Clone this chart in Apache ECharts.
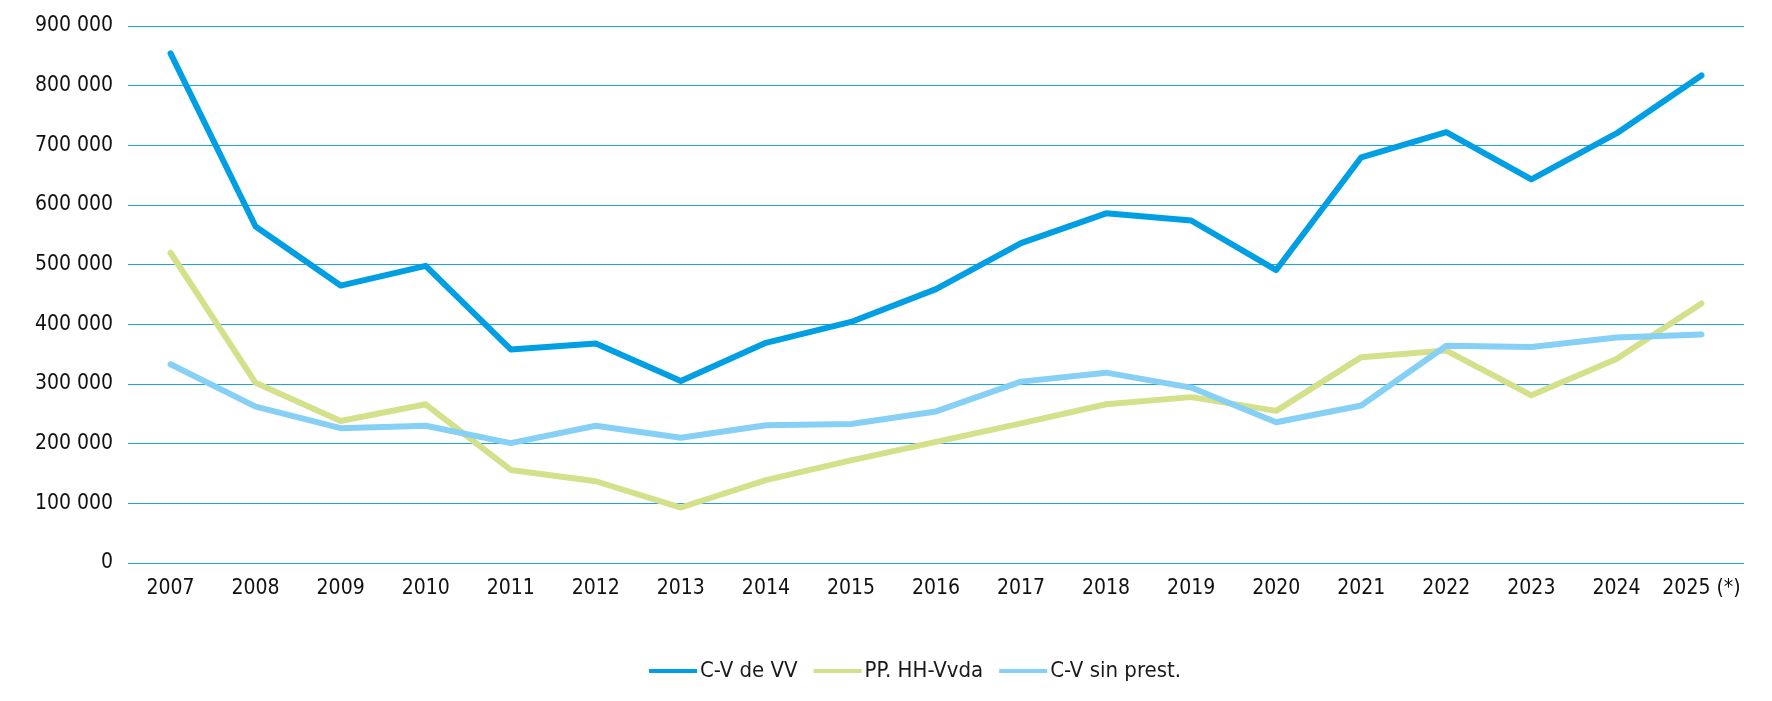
<!DOCTYPE html>
<html>
<head>
<meta charset="utf-8">
<script src="https://cdn.jsdelivr.net/npm/echarts@6/dist/echarts.min.js"></script>
<style>
html,body{margin:0;padding:0;background:#fff;}
#chart{width:1772px;height:701px;}
</style>
</head>
<body>
<div id="chart"></div>
<script>
const years = ['2007','2008','2009','2010','2011','2012','2013','2014','2015','2016','2017','2018','2019','2020','2021','2022','2023','2024','2025 (*)'];
const cvVV = [854000,564000,465000,498000,358000,368000,305000,369000,404000,459000,536000,586000,574000,491000,680000,722000,643000,720000,817000];
const ppHH = [520000,302000,238000,266000,156000,137000,93000,139000,172000,203000,234000,266000,278000,255000,345000,356000,281000,342000,435000];
const cvSin = [333000,262000,226000,230000,201000,230000,210000,231000,233000,254000,304000,319000,294000,236000,264000,364000,362000,378000,383000];
const seriesNames = ['C-V de VV','PP. HH-Vvda','C-V sin prest.'];
const colors = ['#009FE3','#D4E08A','#86D0F5'];

const font = "'Liberation Sans Narrow','DejaVu Sans Condensed','Roboto',sans-serif";
const chart = echarts.init(document.getElementById('chart'), null, {renderer:'canvas'});
const mk = (name, data, color) => ({
  name, type:'line', data, symbol:'none', smooth:false,
  lineStyle:{color, width:6, cap:'round', join:'round'},
  itemStyle:{color},
  emphasis:{disabled:true}
});
chart.setOption({
  animation:false,
  color: colors,
  grid:{left:128, right:28, top:26, bottom:138, containLabel:false},
  legend:{
    left:644, top:655, itemWidth:48, itemHeight:12, itemGap:16,
    icon:'path://M0,0 L48,0 L48,4 L0,4 Z',
    textStyle:{fontFamily:font, fontSize:22, color:'#1a1a1a', padding:[0,0,0,-2]},
    data: seriesNames
  },
  xAxis:{
    type:'category', data:years, boundaryGap:true,
    axisLine:{show:false}, axisTick:{show:false},
    axisLabel:{fontFamily:font, fontSize:21, color:'#111', margin:15, interval:0}
  },
  yAxis:{
    type:'value', min:0, max:900000, interval:100000,
    axisLine:{show:false}, axisTick:{show:false},
    splitLine:{lineStyle:{color:'#1FA3E0', width:1}},
    axisLabel:{fontFamily:font, fontSize:21, color:'#111', margin:15,
      formatter: v => String(v).replace(/\B(?=(\d{3})+(?!\d))/g,' ')}
  },
  series:[mk(seriesNames[0], cvVV, colors[0]), mk(seriesNames[1], ppHH, colors[1]), mk(seriesNames[2], cvSin, colors[2])]
});
</script>
</body>
</html>
